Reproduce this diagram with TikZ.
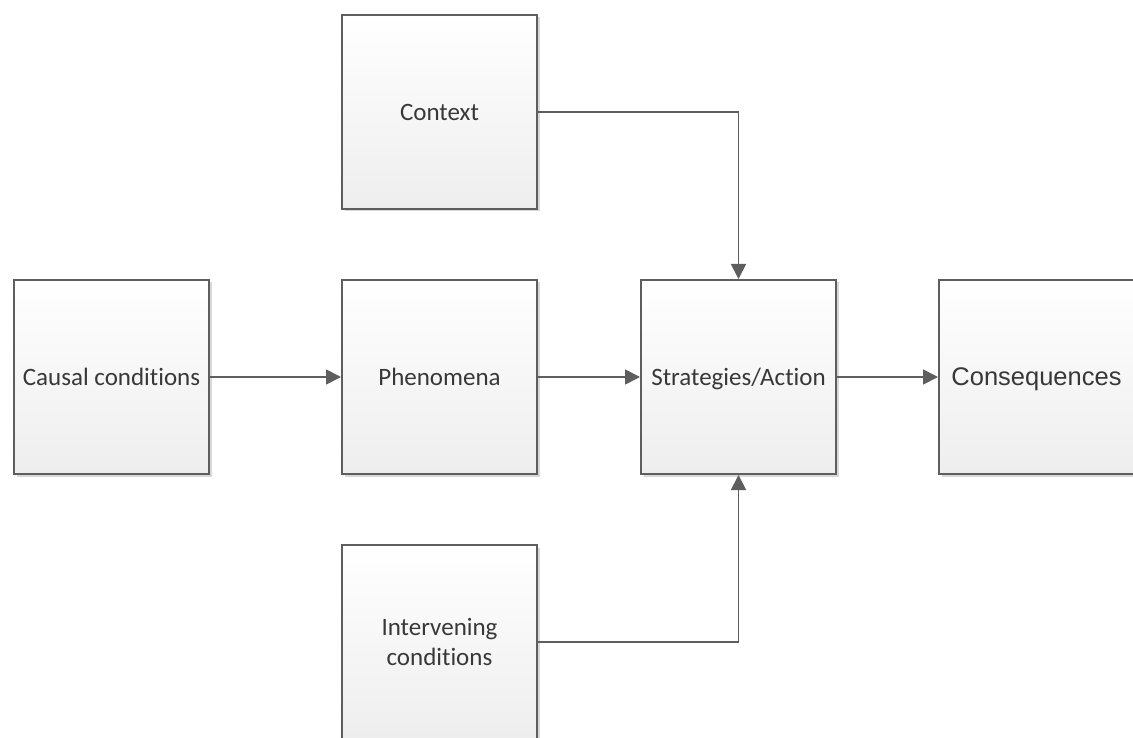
\documentclass[tikz,border=0pt]{standalone}
\usepackage{fontspec}
\setmainfont[Ligatures=CommonOff]{Carlito}
\newfontfamily\arialfont{Liberation Sans}
\usetikzlibrary{arrows.meta,shadows}
\definecolor{edgegray}{HTML}{5E5E5E}
\definecolor{txtgray}{HTML}{383838}
\definecolor{fillbottom}{HTML}{EEEEEE}
\begin{document}
\begin{tikzpicture}[x=1pt,y=-1pt,
  block/.style={rectangle, draw=edgegray, line width=2pt,
    minimum width=195pt, minimum height=194pt, inner sep=2pt,
    top color=white, bottom color=fillbottom, text=txtgray,
    font=\fontsize{25}{30}\selectfont, align=center,
    drop shadow={shadow xshift=2.5pt, shadow yshift=-2.5pt, opacity=0.25, fill=black!60}},
  link/.style={draw=edgegray, line width=1.8pt,
    -{Triangle[length=15pt,width=15pt]}}]
  \useasboundingbox (0,0) rectangle (1133,738);
  \clip (0,0) rectangle (1133,738);
  \fill[white] (0,0) rectangle (1133,738);

  \node[block] (ctx) at (439.5,112) {Context};
  \node[block] (cau) at (111.5,377) {Causal conditions};
  \node[block] (phe) at (439.5,377) {Phenomena};
  \node[block, text depth=0pt] (str) at (738.5,377) {Strategies/Action};
  \node[block, text depth=0pt, font=\arialfont\fontsize{25.5}{30}\selectfont] (con) at (1036.5,377) {Consequences};
  \node[block] (int) at (439.5,642) {Intervening\\conditions};

  \draw[link] (cau) -- (phe);
  \draw[link] (phe) -- (str);
  \draw[link] (str) -- (con);
  \draw[link] (ctx.east) -| (str.north);
  \draw[link] (int.east) -| (str.south);
\end{tikzpicture}
\end{document}
